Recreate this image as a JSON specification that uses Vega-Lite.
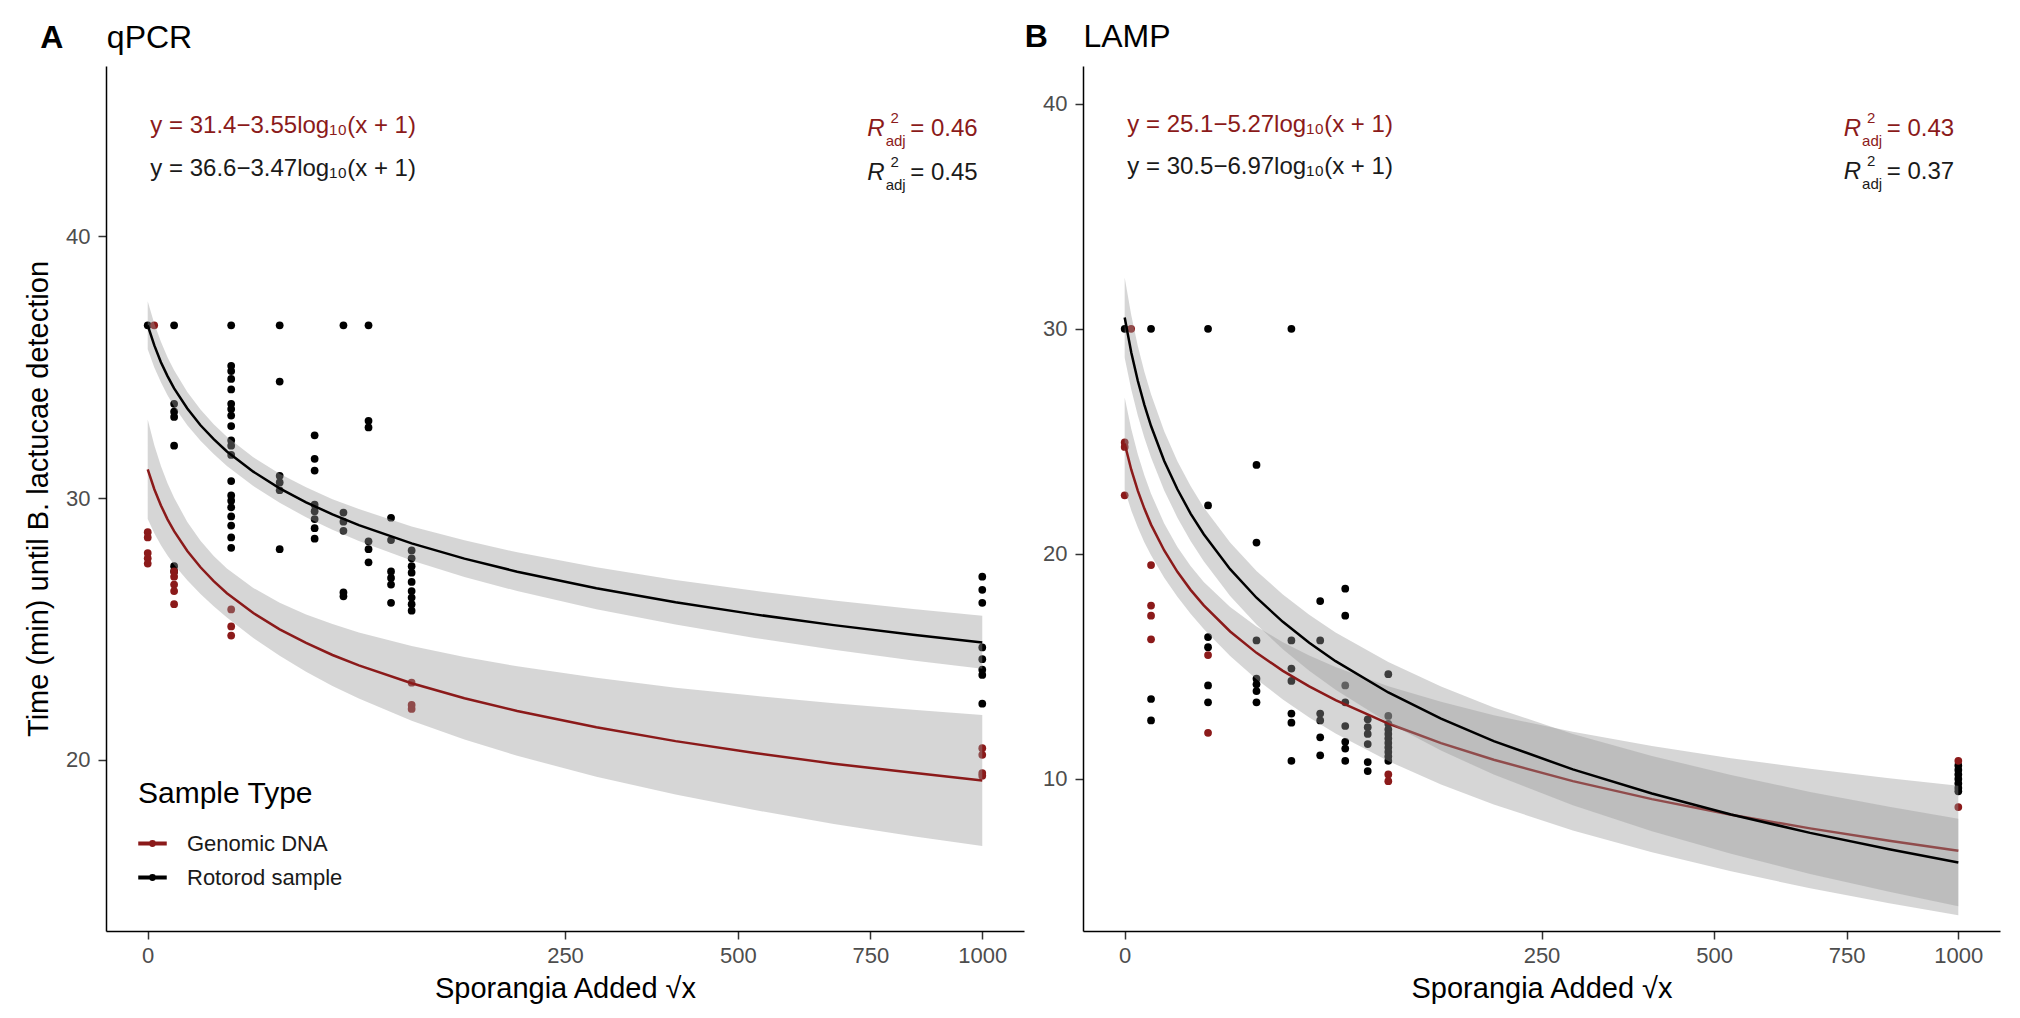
{
"$schema": "https://vega.github.io/schema/vega-lite/v6.json",
"background": "white",
"padding": {"left": 24, "top": 21, "right": 5, "bottom": 5},
"config": {
  "font": "Liberation Sans",
  "view": {"stroke": null},
  "concat": {"spacing": 0},
  "axis": {"grid": false, "domainColor": "#000000", "domainWidth": 1.5, "tickColor": "#333333", "tickWidth": 1.5, "tickSize": 8, "labelColor": "#4d4d4d", "labelFontSize": 22, "labelPadding": 6, "titleFontSize": 29, "titleFontWeight": "normal", "titleColor": "#000000"}
},
"datasets": {
  "one": [{"n": 1}],
  "ptsA": [
    {"sample":"Rotorod sample","x":0,"y":36.6},
    {"sample":"Genomic DNA","x":0.06,"y":36.6},
    {"sample":"Genomic DNA","x":0,"y":28.7},{"sample":"Genomic DNA","x":0,"y":28.5},{"sample":"Genomic DNA","x":0,"y":27.9},{"sample":"Genomic DNA","x":0,"y":27.7},{"sample":"Genomic DNA","x":0,"y":27.5},
    {"sample":"Rotorod sample","x":1,"y":36.6},{"sample":"Rotorod sample","x":1,"y":33.6},{"sample":"Rotorod sample","x":1,"y":33.3},{"sample":"Rotorod sample","x":1,"y":33.1},{"sample":"Rotorod sample","x":1,"y":32.0},{"sample":"Rotorod sample","x":1,"y":27.4},{"sample":"Rotorod sample","x":1,"y":27.2},
    {"sample":"Genomic DNA","x":1,"y":27.2},{"sample":"Genomic DNA","x":1,"y":27.0},{"sample":"Genomic DNA","x":1,"y":26.7},{"sample":"Genomic DNA","x":1,"y":26.45},{"sample":"Genomic DNA","x":1,"y":25.95},
    {"sample":"Rotorod sample","x":10,"y":36.6},{"sample":"Rotorod sample","x":10,"y":35.05},{"sample":"Rotorod sample","x":10,"y":34.85},{"sample":"Rotorod sample","x":10,"y":34.55},{"sample":"Rotorod sample","x":10,"y":34.15},{"sample":"Rotorod sample","x":10,"y":33.6},{"sample":"Rotorod sample","x":10,"y":33.4},{"sample":"Rotorod sample","x":10,"y":33.15},{"sample":"Rotorod sample","x":10,"y":32.75},{"sample":"Rotorod sample","x":10,"y":32.2},{"sample":"Rotorod sample","x":10,"y":32.0},{"sample":"Rotorod sample","x":10,"y":31.65},{"sample":"Rotorod sample","x":10,"y":30.65},{"sample":"Rotorod sample","x":10,"y":30.1},{"sample":"Rotorod sample","x":10,"y":29.9},{"sample":"Rotorod sample","x":10,"y":29.65},{"sample":"Rotorod sample","x":10,"y":29.3},{"sample":"Rotorod sample","x":10,"y":28.95},{"sample":"Rotorod sample","x":10,"y":28.5},{"sample":"Rotorod sample","x":10,"y":28.1},
    {"sample":"Genomic DNA","x":10,"y":25.75},{"sample":"Genomic DNA","x":10,"y":25.1},{"sample":"Genomic DNA","x":10,"y":24.75},
    {"sample":"Rotorod sample","x":25,"y":36.6},{"sample":"Rotorod sample","x":25,"y":34.45},{"sample":"Rotorod sample","x":25,"y":30.85},{"sample":"Rotorod sample","x":25,"y":30.6},{"sample":"Rotorod sample","x":25,"y":30.3},{"sample":"Rotorod sample","x":25,"y":28.05},
    {"sample":"Rotorod sample","x":40,"y":32.4},{"sample":"Rotorod sample","x":40,"y":31.5},{"sample":"Rotorod sample","x":40,"y":31.05},{"sample":"Rotorod sample","x":40,"y":29.75},{"sample":"Rotorod sample","x":40,"y":29.5},{"sample":"Rotorod sample","x":40,"y":29.2},{"sample":"Rotorod sample","x":40,"y":28.85},{"sample":"Rotorod sample","x":40,"y":28.45},
    {"sample":"Rotorod sample","x":55,"y":36.6},{"sample":"Rotorod sample","x":55,"y":29.45},{"sample":"Rotorod sample","x":55,"y":29.1},{"sample":"Rotorod sample","x":55,"y":28.75},{"sample":"Rotorod sample","x":55,"y":26.4},{"sample":"Rotorod sample","x":55,"y":26.25},
    {"sample":"Rotorod sample","x":70,"y":36.6},{"sample":"Rotorod sample","x":70,"y":32.95},{"sample":"Rotorod sample","x":70,"y":32.7},{"sample":"Rotorod sample","x":70,"y":28.35},{"sample":"Rotorod sample","x":70,"y":28.05},{"sample":"Rotorod sample","x":70,"y":27.55},
    {"sample":"Rotorod sample","x":85,"y":29.25},{"sample":"Rotorod sample","x":85,"y":28.4},{"sample":"Rotorod sample","x":85,"y":27.2},{"sample":"Rotorod sample","x":85,"y":26.95},{"sample":"Rotorod sample","x":85,"y":26.7},{"sample":"Rotorod sample","x":85,"y":26.0},
    {"sample":"Rotorod sample","x":100,"y":28.0},{"sample":"Rotorod sample","x":100,"y":27.7},{"sample":"Rotorod sample","x":100,"y":27.4},{"sample":"Rotorod sample","x":100,"y":27.15},{"sample":"Rotorod sample","x":100,"y":26.8},{"sample":"Rotorod sample","x":100,"y":26.45},{"sample":"Rotorod sample","x":100,"y":26.2},{"sample":"Rotorod sample","x":100,"y":25.95},{"sample":"Rotorod sample","x":100,"y":25.7},
    {"sample":"Genomic DNA","x":100,"y":22.95},{"sample":"Genomic DNA","x":100,"y":22.1},{"sample":"Genomic DNA","x":100,"y":21.95},
    {"sample":"Rotorod sample","x":1000,"y":27.0},{"sample":"Rotorod sample","x":1000,"y":26.5},{"sample":"Rotorod sample","x":1000,"y":26.0},{"sample":"Rotorod sample","x":1000,"y":24.3},{"sample":"Rotorod sample","x":1000,"y":23.85},{"sample":"Rotorod sample","x":1000,"y":23.45},{"sample":"Rotorod sample","x":1000,"y":23.25},{"sample":"Rotorod sample","x":1000,"y":22.15},
    {"sample":"Genomic DNA","x":1000,"y":20.45},{"sample":"Genomic DNA","x":1000,"y":20.2},{"sample":"Genomic DNA","x":1000,"y":19.5},{"sample":"Genomic DNA","x":1000,"y":19.4}
  ],
  "ptsB": [
    {"sample":"Rotorod sample","x":0,"y":30},
    {"sample":"Genomic DNA","x":0.06,"y":30},
    {"sample":"Genomic DNA","x":0,"y":24.95},{"sample":"Genomic DNA","x":0,"y":24.75},{"sample":"Genomic DNA","x":0,"y":22.6},
    {"sample":"Genomic DNA","x":1,"y":19.5},{"sample":"Genomic DNA","x":1,"y":17.7},{"sample":"Genomic DNA","x":1,"y":17.25},{"sample":"Genomic DNA","x":1,"y":16.2},
    {"sample":"Rotorod sample","x":1,"y":30},{"sample":"Rotorod sample","x":1,"y":13.55},{"sample":"Rotorod sample","x":1,"y":12.6},
    {"sample":"Rotorod sample","x":10,"y":30},{"sample":"Rotorod sample","x":10,"y":22.15},{"sample":"Rotorod sample","x":10,"y":16.3},{"sample":"Rotorod sample","x":10,"y":15.85},{"sample":"Rotorod sample","x":10,"y":14.15},{"sample":"Rotorod sample","x":10,"y":13.4},
    {"sample":"Genomic DNA","x":10,"y":15.5},{"sample":"Genomic DNA","x":10,"y":12.05},
    {"sample":"Rotorod sample","x":25,"y":23.95},{"sample":"Rotorod sample","x":25,"y":20.5},{"sample":"Rotorod sample","x":25,"y":16.15},{"sample":"Rotorod sample","x":25,"y":14.45},{"sample":"Rotorod sample","x":25,"y":14.2},{"sample":"Rotorod sample","x":25,"y":13.9},{"sample":"Rotorod sample","x":25,"y":13.4},
    {"sample":"Rotorod sample","x":40,"y":30},{"sample":"Rotorod sample","x":40,"y":16.15},{"sample":"Rotorod sample","x":40,"y":14.9},{"sample":"Rotorod sample","x":40,"y":14.35},{"sample":"Rotorod sample","x":40,"y":12.9},{"sample":"Rotorod sample","x":40,"y":12.5},{"sample":"Rotorod sample","x":40,"y":10.8},
    {"sample":"Rotorod sample","x":55,"y":17.9},{"sample":"Rotorod sample","x":55,"y":16.15},{"sample":"Rotorod sample","x":55,"y":12.9},{"sample":"Rotorod sample","x":55,"y":12.6},{"sample":"Rotorod sample","x":55,"y":11.85},{"sample":"Rotorod sample","x":55,"y":11.05},
    {"sample":"Rotorod sample","x":70,"y":18.45},{"sample":"Rotorod sample","x":70,"y":17.25},{"sample":"Rotorod sample","x":70,"y":14.15},{"sample":"Rotorod sample","x":70,"y":13.4},{"sample":"Rotorod sample","x":70,"y":12.35},{"sample":"Rotorod sample","x":70,"y":11.65},{"sample":"Rotorod sample","x":70,"y":11.35},{"sample":"Rotorod sample","x":70,"y":10.8},
    {"sample":"Rotorod sample","x":85,"y":12.65},{"sample":"Rotorod sample","x":85,"y":12.3},{"sample":"Rotorod sample","x":85,"y":12.0},{"sample":"Rotorod sample","x":85,"y":11.55},{"sample":"Rotorod sample","x":85,"y":10.75},{"sample":"Rotorod sample","x":85,"y":10.35},
    {"sample":"Rotorod sample","x":100,"y":14.65},{"sample":"Rotorod sample","x":100,"y":12.8},{"sample":"Rotorod sample","x":100,"y":12.45},{"sample":"Rotorod sample","x":100,"y":12.2},{"sample":"Rotorod sample","x":100,"y":12.0},{"sample":"Rotorod sample","x":100,"y":11.8},{"sample":"Rotorod sample","x":100,"y":11.6},{"sample":"Rotorod sample","x":100,"y":11.4},{"sample":"Rotorod sample","x":100,"y":11.2},{"sample":"Rotorod sample","x":100,"y":11.0},{"sample":"Rotorod sample","x":100,"y":10.8},
    {"sample":"Genomic DNA","x":100,"y":10.2},{"sample":"Genomic DNA","x":100,"y":9.9},
    {"sample":"Rotorod sample","x":1000,"y":10.6},{"sample":"Rotorod sample","x":1000,"y":10.4},{"sample":"Rotorod sample","x":1000,"y":10.2},{"sample":"Rotorod sample","x":1000,"y":10.0},{"sample":"Rotorod sample","x":1000,"y":9.8},{"sample":"Rotorod sample","x":1000,"y":9.6},{"sample":"Rotorod sample","x":1000,"y":9.45},
    {"sample":"Genomic DNA","x":1000,"y":10.8},{"sample":"Genomic DNA","x":1000,"y":8.75}
  ],
  "fitA": [
    {"sample":"Genomic DNA","x":0,"y":31.10,"lo":29.20,"hi":33.00},
    {"sample":"Genomic DNA","x":0.0625,"y":30.34,"lo":28.66,"hi":32.02},
    {"sample":"Genomic DNA","x":0.25,"y":29.72,"lo":28.20,"hi":31.23},
    {"sample":"Genomic DNA","x":0.5625,"y":29.19,"lo":27.81,"hi":30.57},
    {"sample":"Genomic DNA","x":1,"y":28.74,"lo":27.46,"hi":30.01},
    {"sample":"Genomic DNA","x":2.25,"y":27.98,"lo":26.86,"hi":29.09},
    {"sample":"Genomic DNA","x":4,"y":27.36,"lo":26.34,"hi":28.37},
    {"sample":"Genomic DNA","x":6.25,"y":26.83,"lo":25.87,"hi":27.79},
    {"sample":"Genomic DNA","x":9,"y":26.37,"lo":25.44,"hi":27.31},
    {"sample":"Genomic DNA","x":16,"y":25.61,"lo":24.66,"hi":26.57},
    {"sample":"Genomic DNA","x":25,"y":24.99,"lo":23.98,"hi":26.00},
    {"sample":"Genomic DNA","x":36,"y":24.47,"lo":23.37,"hi":25.56},
    {"sample":"Genomic DNA","x":49,"y":24.01,"lo":22.83,"hi":25.19},
    {"sample":"Genomic DNA","x":64,"y":23.61,"lo":22.35,"hi":24.87},
    {"sample":"Genomic DNA","x":100,"y":22.93,"lo":21.50,"hi":24.35},
    {"sample":"Genomic DNA","x":144,"y":22.36,"lo":20.78,"hi":23.93},
    {"sample":"Genomic DNA","x":196,"y":21.87,"lo":20.16,"hi":23.58},
    {"sample":"Genomic DNA","x":289,"y":21.25,"lo":19.36,"hi":23.14},
    {"sample":"Genomic DNA","x":400,"y":20.72,"lo":18.68,"hi":22.76},
    {"sample":"Genomic DNA","x":529,"y":20.27,"lo":18.09,"hi":22.45},
    {"sample":"Genomic DNA","x":676,"y":19.86,"lo":17.56,"hi":22.17},
    {"sample":"Genomic DNA","x":841,"y":19.51,"lo":17.09,"hi":21.92},
    {"sample":"Genomic DNA","x":1000,"y":19.22,"lo":16.72,"hi":21.72},
    {"sample":"Rotorod sample","x":0,"y":36.60,"lo":35.68,"hi":37.52},
    {"sample":"Rotorod sample","x":0.0625,"y":35.83,"lo":34.99,"hi":36.66},
    {"sample":"Rotorod sample","x":0.25,"y":35.19,"lo":34.42,"hi":35.97},
    {"sample":"Rotorod sample","x":0.5625,"y":34.66,"lo":33.93,"hi":35.38},
    {"sample":"Rotorod sample","x":1,"y":34.19,"lo":33.50,"hi":34.88},
    {"sample":"Rotorod sample","x":2.25,"y":33.42,"lo":32.78,"hi":34.05},
    {"sample":"Rotorod sample","x":4,"y":32.78,"lo":32.19,"hi":33.38},
    {"sample":"Rotorod sample","x":6.25,"y":32.25,"lo":31.68,"hi":32.82},
    {"sample":"Rotorod sample","x":9,"y":31.78,"lo":31.23,"hi":32.34},
    {"sample":"Rotorod sample","x":16,"y":31.01,"lo":30.46,"hi":31.56},
    {"sample":"Rotorod sample","x":25,"y":30.37,"lo":29.82,"hi":30.93},
    {"sample":"Rotorod sample","x":36,"y":29.84,"lo":29.27,"hi":30.41},
    {"sample":"Rotorod sample","x":49,"y":29.38,"lo":28.79,"hi":29.96},
    {"sample":"Rotorod sample","x":64,"y":28.97,"lo":28.36,"hi":29.58},
    {"sample":"Rotorod sample","x":100,"y":28.27,"lo":27.62,"hi":28.92},
    {"sample":"Rotorod sample","x":144,"y":27.69,"lo":26.99,"hi":28.39},
    {"sample":"Rotorod sample","x":196,"y":27.19,"lo":26.45,"hi":27.93},
    {"sample":"Rotorod sample","x":289,"y":26.56,"lo":25.76,"hi":27.36},
    {"sample":"Rotorod sample","x":400,"y":26.02,"lo":25.17,"hi":26.87},
    {"sample":"Rotorod sample","x":529,"y":25.56,"lo":24.66,"hi":26.46},
    {"sample":"Rotorod sample","x":676,"y":25.15,"lo":24.21,"hi":26.09},
    {"sample":"Rotorod sample","x":841,"y":24.78,"lo":23.80,"hi":25.77},
    {"sample":"Rotorod sample","x":1000,"y":24.49,"lo":23.48,"hi":25.51}
  ],
  "fitB": [
    {"sample":"Genomic DNA","x":0,"y":24.90,"lo":22.85,"hi":26.95},
    {"sample":"Genomic DNA","x":0.0625,"y":23.74,"lo":21.93,"hi":25.55},
    {"sample":"Genomic DNA","x":0.25,"y":22.80,"lo":21.17,"hi":24.42},
    {"sample":"Genomic DNA","x":0.5625,"y":22.00,"lo":20.51,"hi":23.48},
    {"sample":"Genomic DNA","x":1,"y":21.30,"lo":19.94,"hi":22.67},
    {"sample":"Genomic DNA","x":2.25,"y":20.15,"lo":18.94,"hi":21.35},
    {"sample":"Genomic DNA","x":4,"y":19.20,"lo":18.09,"hi":20.31},
    {"sample":"Genomic DNA","x":6.25,"y":18.40,"lo":17.34,"hi":19.46},
    {"sample":"Genomic DNA","x":9,"y":17.71,"lo":16.66,"hi":18.75},
    {"sample":"Genomic DNA","x":16,"y":16.55,"lo":15.46,"hi":17.64},
    {"sample":"Genomic DNA","x":25,"y":15.60,"lo":14.43,"hi":16.77},
    {"sample":"Genomic DNA","x":36,"y":14.80,"lo":13.53,"hi":16.07},
    {"sample":"Genomic DNA","x":49,"y":14.11,"lo":12.73,"hi":15.48},
    {"sample":"Genomic DNA","x":64,"y":13.50,"lo":12.02,"hi":14.97},
    {"sample":"Genomic DNA","x":100,"y":12.46,"lo":10.79,"hi":14.12},
    {"sample":"Genomic DNA","x":144,"y":11.59,"lo":9.75,"hi":13.43},
    {"sample":"Genomic DNA","x":196,"y":10.85,"lo":8.86,"hi":12.83},
    {"sample":"Genomic DNA","x":289,"y":9.90,"lo":7.71,"hi":12.09},
    {"sample":"Genomic DNA","x":400,"y":9.10,"lo":6.74,"hi":11.46},
    {"sample":"Genomic DNA","x":529,"y":8.41,"lo":5.89,"hi":10.92},
    {"sample":"Genomic DNA","x":676,"y":7.80,"lo":5.14,"hi":10.45},
    {"sample":"Genomic DNA","x":841,"y":7.25,"lo":4.47,"hi":10.03},
    {"sample":"Genomic DNA","x":1000,"y":6.81,"lo":3.94,"hi":9.69},
    {"sample":"Rotorod sample","x":0,"y":30.50,"lo":28.72,"hi":32.28},
    {"sample":"Rotorod sample","x":0.0625,"y":28.95,"lo":27.30,"hi":30.60},
    {"sample":"Rotorod sample","x":0.25,"y":27.68,"lo":26.14,"hi":29.23},
    {"sample":"Rotorod sample","x":0.5625,"y":26.61,"lo":25.15,"hi":28.08},
    {"sample":"Rotorod sample","x":1,"y":25.68,"lo":24.28,"hi":27.09},
    {"sample":"Rotorod sample","x":2.25,"y":24.13,"lo":22.82,"hi":25.45},
    {"sample":"Rotorod sample","x":4,"y":22.87,"lo":21.61,"hi":24.12},
    {"sample":"Rotorod sample","x":6.25,"y":21.79,"lo":20.57,"hi":23.01},
    {"sample":"Rotorod sample","x":9,"y":20.87,"lo":19.67,"hi":22.06},
    {"sample":"Rotorod sample","x":16,"y":19.32,"lo":18.13,"hi":20.50},
    {"sample":"Rotorod sample","x":25,"y":18.05,"lo":16.86,"hi":19.24},
    {"sample":"Rotorod sample","x":36,"y":16.98,"lo":15.76,"hi":18.19},
    {"sample":"Rotorod sample","x":49,"y":16.05,"lo":14.81,"hi":17.29},
    {"sample":"Rotorod sample","x":64,"y":15.23,"lo":13.96,"hi":16.51},
    {"sample":"Rotorod sample","x":100,"y":13.84,"lo":12.49,"hi":15.19},
    {"sample":"Rotorod sample","x":144,"y":12.68,"lo":11.26,"hi":14.10},
    {"sample":"Rotorod sample","x":196,"y":11.68,"lo":10.19,"hi":13.17},
    {"sample":"Rotorod sample","x":289,"y":10.42,"lo":8.83,"hi":12.00},
    {"sample":"Rotorod sample","x":400,"y":9.35,"lo":7.67,"hi":11.02},
    {"sample":"Rotorod sample","x":529,"y":8.42,"lo":6.67,"hi":10.17},
    {"sample":"Rotorod sample","x":676,"y":7.60,"lo":5.77,"hi":9.42},
    {"sample":"Rotorod sample","x":841,"y":6.87,"lo":4.98,"hi":8.76},
    {"sample":"Rotorod sample","x":1000,"y":6.28,"lo":4.34,"hi":8.23}
  ]
},
"resolve": {"legend": {"color": "independent"}},
"hconcat": [
{
  "width": 918, "height": 865,
  "layer": [
    {"data": {"name": "ptsA"}, "mark": {"type": "circle", "size": 60, "opacity": 1},
     "encoding": {
       "x": {"field": "x", "type": "quantitative", "scale": {"type": "sqrt", "domain": [-2.5, 1102.5], "nice": false, "zero": false}, "axis": {"values": [0, 250, 500, 750, 1000], "format": "d", "title": "Sporangia Added √x", "titlePadding": 8}},
       "y": {"field": "y", "type": "quantitative", "scale": {"domain": [13.47, 46.5], "nice": false, "zero": false}, "axis": {"values": [20, 30, 40], "title": "Time (min) until B. lactucae detection", "labelPadding": 8, "titlePadding": 12}},
       "color": {"field": "sample", "type": "nominal", "title": "Sample Type", "scale": {"domain": ["Genomic DNA", "Rotorod sample"], "range": ["#8B1A1A", "#000000"]},
       "legend": {"orient": "none", "legendX": 32, "legendY": 713, "titleFontSize": 30, "titleFontWeight": "normal", "titleColor": "#000000", "titlePadding": 20, "labelFontSize": 22, "labelColor": "#1a1a1a", "labelOffset": 20, "symbolType": "M-1,-0.09H1V0.09H-1Z M0.2,0A0.2,0.2,0,1,1,-0.2,0A0.2,0.2,0,1,1,0.2,0", "symbolSize": 729, "symbolOpacity": 1, "rowPadding": 8}}}},
    {"data": {"name": "fitA"}, "transform": [{"filter": "datum.sample === 'Genomic DNA'"}], "mark": {"type": "area", "color": "#999999", "opacity": 0.4},
     "encoding": {"x": {"field": "x", "type": "quantitative"}, "y": {"field": "lo", "type": "quantitative", "title": "Time (min) until B. lactucae detection"}, "y2": {"field": "hi"}}},
    {"data": {"name": "fitA"}, "transform": [{"filter": "datum.sample === 'Genomic DNA'"}], "mark": {"type": "line", "strokeWidth": 2.5},
     "encoding": {"x": {"field": "x", "type": "quantitative"}, "y": {"field": "y", "type": "quantitative", "title": "Time (min) until B. lactucae detection"}, "color": {"field": "sample", "type": "nominal", "legend": null}}},
    {"data": {"name": "fitA"}, "transform": [{"filter": "datum.sample === 'Rotorod sample'"}], "mark": {"type": "area", "color": "#999999", "opacity": 0.4},
     "encoding": {"x": {"field": "x", "type": "quantitative"}, "y": {"field": "lo", "type": "quantitative", "title": "Time (min) until B. lactucae detection"}, "y2": {"field": "hi"}}},
    {"data": {"name": "fitA"}, "transform": [{"filter": "datum.sample === 'Rotorod sample'"}], "mark": {"type": "line", "strokeWidth": 2.5},
     "encoding": {"x": {"field": "x", "type": "quantitative"}, "y": {"field": "y", "type": "quantitative", "title": "Time (min) until B. lactucae detection"}, "color": {"field": "sample", "type": "nominal", "legend": null}}},
    {"data": {"name": "one"}, "mark": {"type": "text", "text": "A", "fontSize": 32, "fontWeight": "bold", "align": "left", "baseline": "alphabetic", "color": "#000000"}, "encoding": {"x": {"datum": -16.6, "type": "quantitative"}, "y": {"datum": 47.19, "type": "quantitative"}}},
    {"data": {"name": "one"}, "mark": {"type": "text", "text": "qPCR", "fontSize": 32, "align": "left", "baseline": "alphabetic", "color": "#000000"}, "encoding": {"x": {"datum": -2.4, "type": "quantitative"}, "y": {"datum": 47.19, "type": "quantitative"}}},
    {"data": {"name": "one"}, "mark": {"type": "text", "text": "y = 31.4−3.55log₁₀(x + 1)", "fontSize": 24, "align": "left", "baseline": "middle", "color": "#8B1A1A"}, "encoding": {"x": {"datum": 0.01, "type": "quantitative"}, "y": {"datum": 44.2, "type": "quantitative"}}},
    {"data": {"name": "one"}, "mark": {"type": "text", "text": "y = 36.6−3.47log₁₀(x + 1)", "fontSize": 24, "align": "left", "baseline": "middle", "color": "#1a1a1a"}, "encoding": {"x": {"datum": 0.01, "type": "quantitative"}, "y": {"datum": 42.56, "type": "quantitative"}}},
    {"data": {"name": "one"}, "mark": {"type": "text", "text": "= 0.46", "fontSize": 24, "align": "right", "baseline": "middle", "color": "#8B1A1A"}, "encoding": {"x": {"datum": 989, "type": "quantitative"}, "y": {"datum": 44.08, "type": "quantitative"}}},
    {"data": {"name": "one"}, "mark": {"type": "text", "text": "R", "fontSize": 24, "fontStyle": "italic", "align": "right", "baseline": "middle", "dx": -93, "color": "#8B1A1A"}, "encoding": {"x": {"datum": 989, "type": "quantitative"}, "y": {"datum": 44.08, "type": "quantitative"}}},
    {"data": {"name": "one"}, "mark": {"type": "text", "text": "2", "fontSize": 15, "align": "center", "baseline": "middle", "dx": -83, "dy": -11, "color": "#8B1A1A"}, "encoding": {"x": {"datum": 989, "type": "quantitative"}, "y": {"datum": 44.08, "type": "quantitative"}}},
    {"data": {"name": "one"}, "mark": {"type": "text", "text": "adj", "fontSize": 15, "align": "center", "baseline": "middle", "dx": -82, "dy": 12, "color": "#8B1A1A"}, "encoding": {"x": {"datum": 989, "type": "quantitative"}, "y": {"datum": 44.08, "type": "quantitative"}}},
    {"data": {"name": "one"}, "mark": {"type": "text", "text": "= 0.45", "fontSize": 24, "align": "right", "baseline": "middle", "color": "#1a1a1a"}, "encoding": {"x": {"datum": 989, "type": "quantitative"}, "y": {"datum": 42.42, "type": "quantitative"}}},
    {"data": {"name": "one"}, "mark": {"type": "text", "text": "R", "fontSize": 24, "fontStyle": "italic", "align": "right", "baseline": "middle", "dx": -93, "color": "#1a1a1a"}, "encoding": {"x": {"datum": 989, "type": "quantitative"}, "y": {"datum": 42.42, "type": "quantitative"}}},
    {"data": {"name": "one"}, "mark": {"type": "text", "text": "2", "fontSize": 15, "align": "center", "baseline": "middle", "dx": -83, "dy": -11, "color": "#1a1a1a"}, "encoding": {"x": {"datum": 989, "type": "quantitative"}, "y": {"datum": 42.42, "type": "quantitative"}}},
    {"data": {"name": "one"}, "mark": {"type": "text", "text": "adj", "fontSize": 15, "align": "center", "baseline": "middle", "dx": -82, "dy": 12, "color": "#1a1a1a"}, "encoding": {"x": {"datum": 989, "type": "quantitative"}, "y": {"datum": 42.42, "type": "quantitative"}}}
  ]
},
{
  "width": 917, "height": 865,
  "layer": [
    {"data": {"name": "ptsB"}, "mark": {"type": "circle", "size": 60, "opacity": 1},
     "encoding": {
       "x": {"field": "x", "type": "quantitative", "scale": {"type": "sqrt", "domain": [-2.5, 1102.5], "nice": false, "zero": false}, "axis": {"values": [0, 250, 500, 750, 1000], "format": "d", "title": "Sporangia Added √x", "titlePadding": 8}},
       "y": {"field": "y", "type": "quantitative", "scale": {"domain": [3.24, 41.68], "nice": false, "zero": false}, "axis": {"values": [10, 20, 30, 40], "title": null, "labelPadding": 8}},
       "color": {"field": "sample", "type": "nominal", "scale": {"domain": ["Genomic DNA", "Rotorod sample"], "range": ["#8B1A1A", "#000000"]}, "legend": null}}},
    {"data": {"name": "fitB"}, "transform": [{"filter": "datum.sample === 'Genomic DNA'"}], "mark": {"type": "area", "color": "#999999", "opacity": 0.4},
     "encoding": {"x": {"field": "x", "type": "quantitative"}, "y": {"field": "lo", "type": "quantitative", "title": null}, "y2": {"field": "hi"}}},
    {"data": {"name": "fitB"}, "transform": [{"filter": "datum.sample === 'Genomic DNA'"}], "mark": {"type": "line", "strokeWidth": 2.5},
     "encoding": {"x": {"field": "x", "type": "quantitative"}, "y": {"field": "y", "type": "quantitative", "title": null}, "color": {"field": "sample", "type": "nominal", "legend": null}}},
    {"data": {"name": "fitB"}, "transform": [{"filter": "datum.sample === 'Rotorod sample'"}], "mark": {"type": "area", "color": "#999999", "opacity": 0.4},
     "encoding": {"x": {"field": "x", "type": "quantitative"}, "y": {"field": "lo", "type": "quantitative", "title": null}, "y2": {"field": "hi"}}},
    {"data": {"name": "fitB"}, "transform": [{"filter": "datum.sample === 'Rotorod sample'"}], "mark": {"type": "line", "strokeWidth": 2.5},
     "encoding": {"x": {"field": "x", "type": "quantitative"}, "y": {"field": "y", "type": "quantitative", "title": null}, "color": {"field": "sample", "type": "nominal", "legend": null}}},
    {"data": {"name": "one"}, "mark": {"type": "text", "text": "B", "fontSize": 32, "fontWeight": "bold", "align": "left", "baseline": "alphabetic", "color": "#000000"}, "encoding": {"x": {"datum": -14.34, "type": "quantitative"}, "y": {"datum": 42.52, "type": "quantitative"}}},
    {"data": {"name": "one"}, "mark": {"type": "text", "text": "LAMP", "fontSize": 32, "align": "left", "baseline": "alphabetic", "color": "#000000"}, "encoding": {"x": {"datum": -2.45, "type": "quantitative"}, "y": {"datum": 42.52, "type": "quantitative"}}},
    {"data": {"name": "one"}, "mark": {"type": "text", "text": "y = 25.1−5.27log₁₀(x + 1)", "fontSize": 24, "align": "left", "baseline": "middle", "color": "#8B1A1A"}, "encoding": {"x": {"datum": 0.01, "type": "quantitative"}, "y": {"datum": 39.04, "type": "quantitative"}}},
    {"data": {"name": "one"}, "mark": {"type": "text", "text": "y = 30.5−6.97log₁₀(x + 1)", "fontSize": 24, "align": "left", "baseline": "middle", "color": "#1a1a1a"}, "encoding": {"x": {"datum": 0.01, "type": "quantitative"}, "y": {"datum": 37.18, "type": "quantitative"}}},
    {"data": {"name": "one"}, "mark": {"type": "text", "text": "= 0.43", "fontSize": 24, "align": "right", "baseline": "middle", "color": "#8B1A1A"}, "encoding": {"x": {"datum": 990, "type": "quantitative"}, "y": {"datum": 38.89, "type": "quantitative"}}},
    {"data": {"name": "one"}, "mark": {"type": "text", "text": "R", "fontSize": 24, "fontStyle": "italic", "align": "right", "baseline": "middle", "dx": -93, "color": "#8B1A1A"}, "encoding": {"x": {"datum": 990, "type": "quantitative"}, "y": {"datum": 38.89, "type": "quantitative"}}},
    {"data": {"name": "one"}, "mark": {"type": "text", "text": "2", "fontSize": 15, "align": "center", "baseline": "middle", "dx": -83, "dy": -11, "color": "#8B1A1A"}, "encoding": {"x": {"datum": 990, "type": "quantitative"}, "y": {"datum": 38.89, "type": "quantitative"}}},
    {"data": {"name": "one"}, "mark": {"type": "text", "text": "adj", "fontSize": 15, "align": "center", "baseline": "middle", "dx": -82, "dy": 12, "color": "#8B1A1A"}, "encoding": {"x": {"datum": 990, "type": "quantitative"}, "y": {"datum": 38.89, "type": "quantitative"}}},
    {"data": {"name": "one"}, "mark": {"type": "text", "text": "= 0.37", "fontSize": 24, "align": "right", "baseline": "middle", "color": "#1a1a1a"}, "encoding": {"x": {"datum": 990, "type": "quantitative"}, "y": {"datum": 36.96, "type": "quantitative"}}},
    {"data": {"name": "one"}, "mark": {"type": "text", "text": "R", "fontSize": 24, "fontStyle": "italic", "align": "right", "baseline": "middle", "dx": -93, "color": "#1a1a1a"}, "encoding": {"x": {"datum": 990, "type": "quantitative"}, "y": {"datum": 36.96, "type": "quantitative"}}},
    {"data": {"name": "one"}, "mark": {"type": "text", "text": "2", "fontSize": 15, "align": "center", "baseline": "middle", "dx": -83, "dy": -11, "color": "#1a1a1a"}, "encoding": {"x": {"datum": 990, "type": "quantitative"}, "y": {"datum": 36.96, "type": "quantitative"}}},
    {"data": {"name": "one"}, "mark": {"type": "text", "text": "adj", "fontSize": 15, "align": "center", "baseline": "middle", "dx": -82, "dy": 12, "color": "#1a1a1a"}, "encoding": {"x": {"datum": 990, "type": "quantitative"}, "y": {"datum": 36.96, "type": "quantitative"}}}
  ]
}
]
}
